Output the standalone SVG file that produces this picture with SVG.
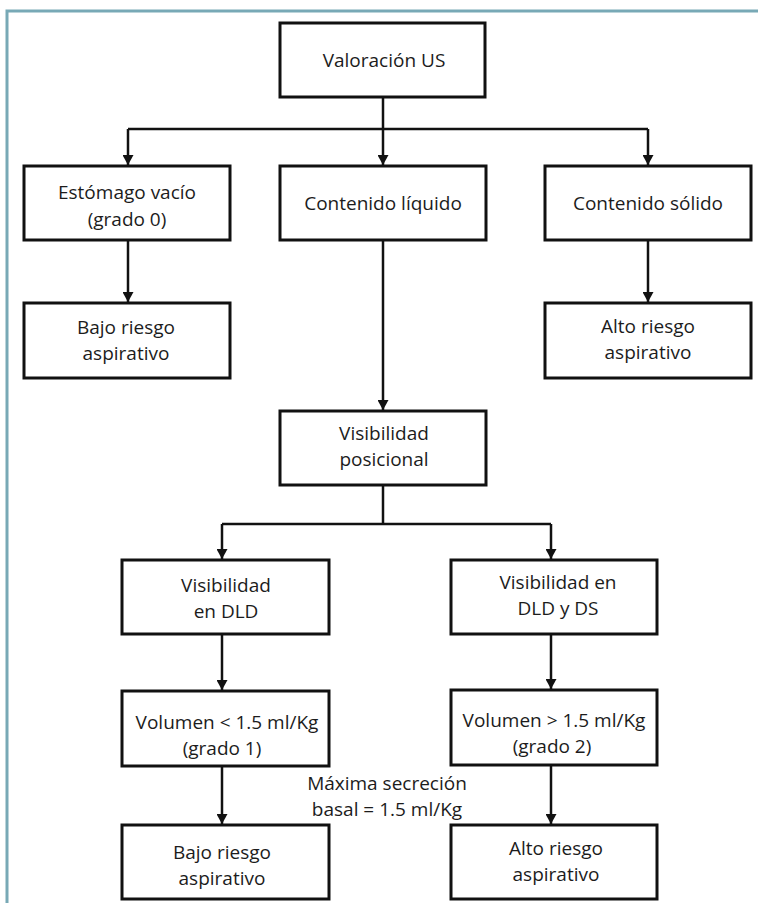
<svg xmlns="http://www.w3.org/2000/svg" width="758" height="903" viewBox="0 0 758 903">
<defs>
<style>
.frame{stroke:#78a9b6;stroke-width:3;fill:none}
.box{fill:#fff;stroke:#111;stroke-width:3}
.t{font-family:"Open Sans","Liberation Sans",sans-serif;font-size:19px;font-weight:500;fill:#1c1c1c;text-anchor:middle}
.c{stroke:#111;stroke-width:2.5;fill:none}
</style>
<marker id="arrd" markerUnits="userSpaceOnUse" markerWidth="11" markerHeight="10" refX="5.5" refY="10" viewBox="0 0 11 10">
<path d="M0,0 L11,0 L5.5,10 Z" fill="#111"/>
</marker>
</defs>
<rect width="758" height="903" fill="#fff"/>
<path class="frame" d="M7,903 V11 H758"/>
<g id="connectors">
<path class="c" d="M383,97 V129"/>
<path class="c" d="M128,129 H648"/>
<path class="c" d="M128,129 V165" marker-end="url(#arrd)"/>
<path class="c" d="M383,129 V165" marker-end="url(#arrd)"/>
<path class="c" d="M648,129 V165" marker-end="url(#arrd)"/>
<path class="c" d="M128,240 V302" marker-end="url(#arrd)"/>
<path class="c" d="M648,240 V302" marker-end="url(#arrd)"/>
<path class="c" d="M383,240 V410" marker-end="url(#arrd)"/>
<path class="c" d="M383,485 V524"/>
<path class="c" d="M222,524 H551"/>
<path class="c" d="M222,524 V559" marker-end="url(#arrd)"/>
<path class="c" d="M551,524 V559" marker-end="url(#arrd)"/>
<path class="c" d="M222,634 V690" marker-end="url(#arrd)"/>
<path class="c" d="M551,634 V689" marker-end="url(#arrd)"/>
<path class="c" d="M222,766 V824" marker-end="url(#arrd)"/>
<path class="c" d="M551,765 V824" marker-end="url(#arrd)"/>
</g>
<g id="n1"><rect class="box" x="280" y="23" width="205" height="74"/><text class="t" x="384" y="67">Valoración US</text></g>
<g id="n2"><rect class="box" x="24" y="166" width="206" height="74"/><text class="t" x="127" y="199">Estómago vacío</text><text class="t" x="127" y="226">(grado 0)</text></g>
<g id="n3"><rect class="box" x="280" y="166" width="206" height="74"/><text class="t" x="383" y="210">Contenido líquido</text></g>
<g id="n4"><rect class="box" x="545" y="166" width="206" height="74"/><text class="t" x="648" y="210">Contenido sólido</text></g>
<g id="n5"><rect class="box" x="24" y="303" width="206" height="75"/><text class="t" x="126" y="334">Bajo riesgo</text><text class="t" x="126" y="360">aspirativo</text></g>
<g id="n6"><rect class="box" x="545" y="303" width="206" height="75"/><text class="t" x="648" y="333">Alto riesgo</text><text class="t" x="648" y="359">aspirativo</text></g>
<g id="n7"><rect class="box" x="280" y="411" width="206" height="74"/><text class="t" x="384" y="440">Visibilidad</text><text class="t" x="384" y="466">posicional</text></g>
<g id="n8"><rect class="box" x="122" y="560" width="207" height="74"/><text class="t" x="226" y="592">Visibilidad</text><text class="t" x="226" y="618">en DLD</text></g>
<g id="n9"><rect class="box" x="451" y="560" width="206" height="74"/><text class="t" x="558" y="589">Visibilidad en</text><text class="t" x="558" y="615">DLD y DS</text></g>
<g id="n10"><rect class="box" x="122" y="691" width="207" height="75"/><text class="t" x="227" y="729">Volumen &lt; 1.5 ml/Kg</text><text class="t" x="222" y="755">(grado 1)</text></g>
<g id="n11"><rect class="box" x="451" y="690" width="206" height="75"/><text class="t" x="554" y="727">Volumen &gt; 1.5 ml/Kg</text><text class="t" x="552" y="753">(grado 2)</text></g>
<g id="n12"><rect class="box" x="122" y="825" width="207" height="74"/><text class="t" x="222" y="859">Bajo riesgo</text><text class="t" x="222" y="885">aspirativo</text></g>
<g id="n13"><rect class="box" x="451" y="825" width="206" height="74"/><text class="t" x="556" y="855">Alto riesgo</text><text class="t" x="556" y="881">aspirativo</text></g>
<g id="label"><text class="t" x="387" y="790">Máxima secreción</text><text class="t" x="387" y="816">basal = 1.5 ml/Kg</text></g>
</svg>
